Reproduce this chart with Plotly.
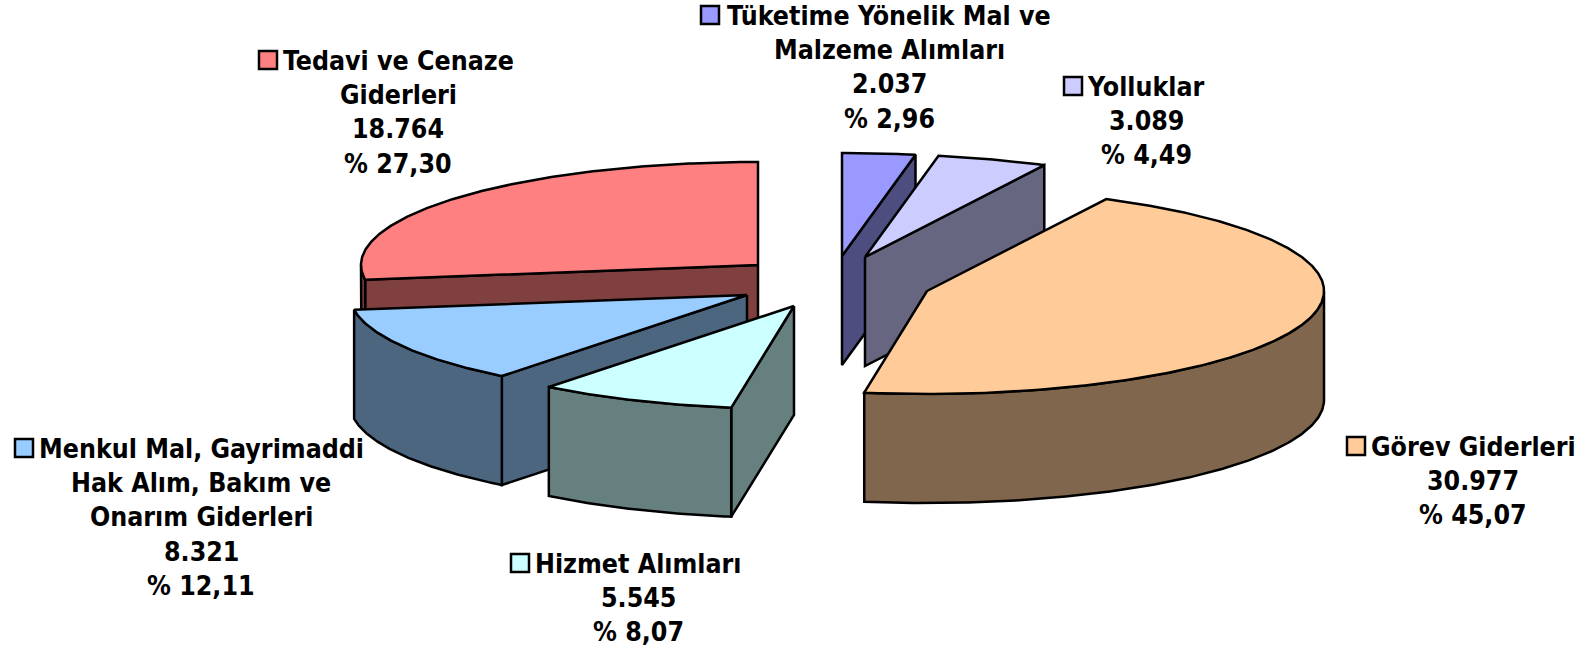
import math
import plotly.graph_objects as go

categories = ["Tüketime Yönelik Mal ve Malzeme Alımları", "Yolluklar", "Görev Giderleri",
              "Hizmet Alımları", "Menkul Mal, Gayrimaddi Hak Alım, Bakım ve Onarım Giderleri",
              "Tedavi ve Cenaze Giderleri"]
values = [2037, 3089, 30977, 5545, 8321, 18764]
label_lines = [["Tüketime Yönelik Mal ve", "Malzeme Alımları"], ["Yolluklar"], ["Görev Giderleri"],
               ["Hizmet Alımları"], ["Menkul Mal, Gayrimaddi", "Hak Alım, Bakım ve", "Onarım Giderleri"],
               ["Tedavi ve Cenaze", "Giderleri"]]
top_colors = ["#9999FF", "#CCCCFF", "#FFCC99", "#CCFFFF", "#99CCFF", "#FF8080"]
side_colors = ["#4D4D80", "#666680", "#80664D", "#668080", "#4D6680", "#804040"]

# exploded-slice centres on the page
centres = [(842, 256), (865, 257), (927, 291), (794, 306), (747, 295), (758, 265)]
RX, RY, DEPTH = 397, 103, 109
# text block: centre x, first line y, square x
label_pos = [(889, 15, 710), (1146, 86, 1073), (1473, 446, 1356),
             (638, 563, 520), (201, 448, 24), (398, 60, 268)]
LINE_PITCH = 34.4
FONT = "DejaVu Sans Condensed, Noto Sans, sans-serif"
FONT_SIZE = 26.5
DRAW_ORDER = [5, 4, 3, 0, 1, 2]

total = sum(values)
starts, acc = [], 0
for v in values:
    starts.append(acc / total * 360)
    acc += v


def rim(c, deg):
    a = math.radians(deg)
    return c[0] + RX * math.sin(a), c[1] - RY * math.cos(a)


def arc(c, a0, a1):
    n = max(2, int(abs(a1 - a0) * 2))
    return [rim(c, a0 + (a1 - a0) * i / n) for i in range(n + 1)]


fig = go.Figure()


def poly(pts, color):
    fig.add_trace(go.Scatter(x=[p[0] for p in pts] + [pts[0][0]], y=[p[1] for p in pts] + [pts[0][1]],
                             mode="lines", fill="toself", fillcolor=color,
                             line=dict(color="black", width=2.5), hoverinfo="skip", showlegend=False))


for i in DRAW_ORDER:
    c = centres[i]
    a0 = starts[i]
    a1 = a0 + values[i] / total * 360
    # radial walls, only the ones turned to the viewer
    for edge, normal in ((a0, a0 - 90), (a1, a1 + 90)):
        if math.cos(math.radians(normal)) < -1e-6:
            r = rim(c, edge)
            poly([c, r, (r[0], r[1] + DEPTH), (c[0], c[1] + DEPTH)], side_colors[i])
    # outer wall on the front half
    lo, hi = max(a0, 90), min(a1, 270)
    if lo < hi:
        pts = arc(c, lo, hi)
        poly(pts + [(x, y + DEPTH) for x, y in reversed(pts)], side_colors[i])
    # top face
    poly([c] + arc(c, a0, a1), top_colors[i])

annotations = []
for i in range(len(values)):
    pct = f"{values[i] / total * 100:.2f}".replace(".", ",")
    val = f"{values[i]:,}".replace(",", ".")
    lines = label_lines[i] + [val, "% " + pct]
    cx, y0, sx = label_pos[i]
    for j, t in enumerate(lines):
        annotations.append(dict(x=cx, y=y0 + j * LINE_PITCH, text=f"<b>{t}</b>", showarrow=False,
                                xanchor="center", yanchor="middle", xref="x", yref="y",
                                font=dict(family=FONT, size=FONT_SIZE, color="black")))
    fig.add_trace(go.Scatter(x=[sx], y=[y0], mode="markers", hoverinfo="skip", showlegend=False,
                             marker=dict(symbol="square", size=18, color=top_colors[i],
                                         line=dict(color="black", width=2.5))))

fig.update_layout(width=1585, height=649, margin=dict(l=0, r=0, t=0, b=0),
                  paper_bgcolor="white", plot_bgcolor="white", annotations=annotations,
                  showlegend=False,
                  xaxis=dict(range=[0, 1585], visible=False, fixedrange=True),
                  yaxis=dict(range=[649, 0], visible=False, fixedrange=True))
fig.write_html("out.html", config={"displayModeBar": False},
               post_script="document.body.style.margin='0';")
